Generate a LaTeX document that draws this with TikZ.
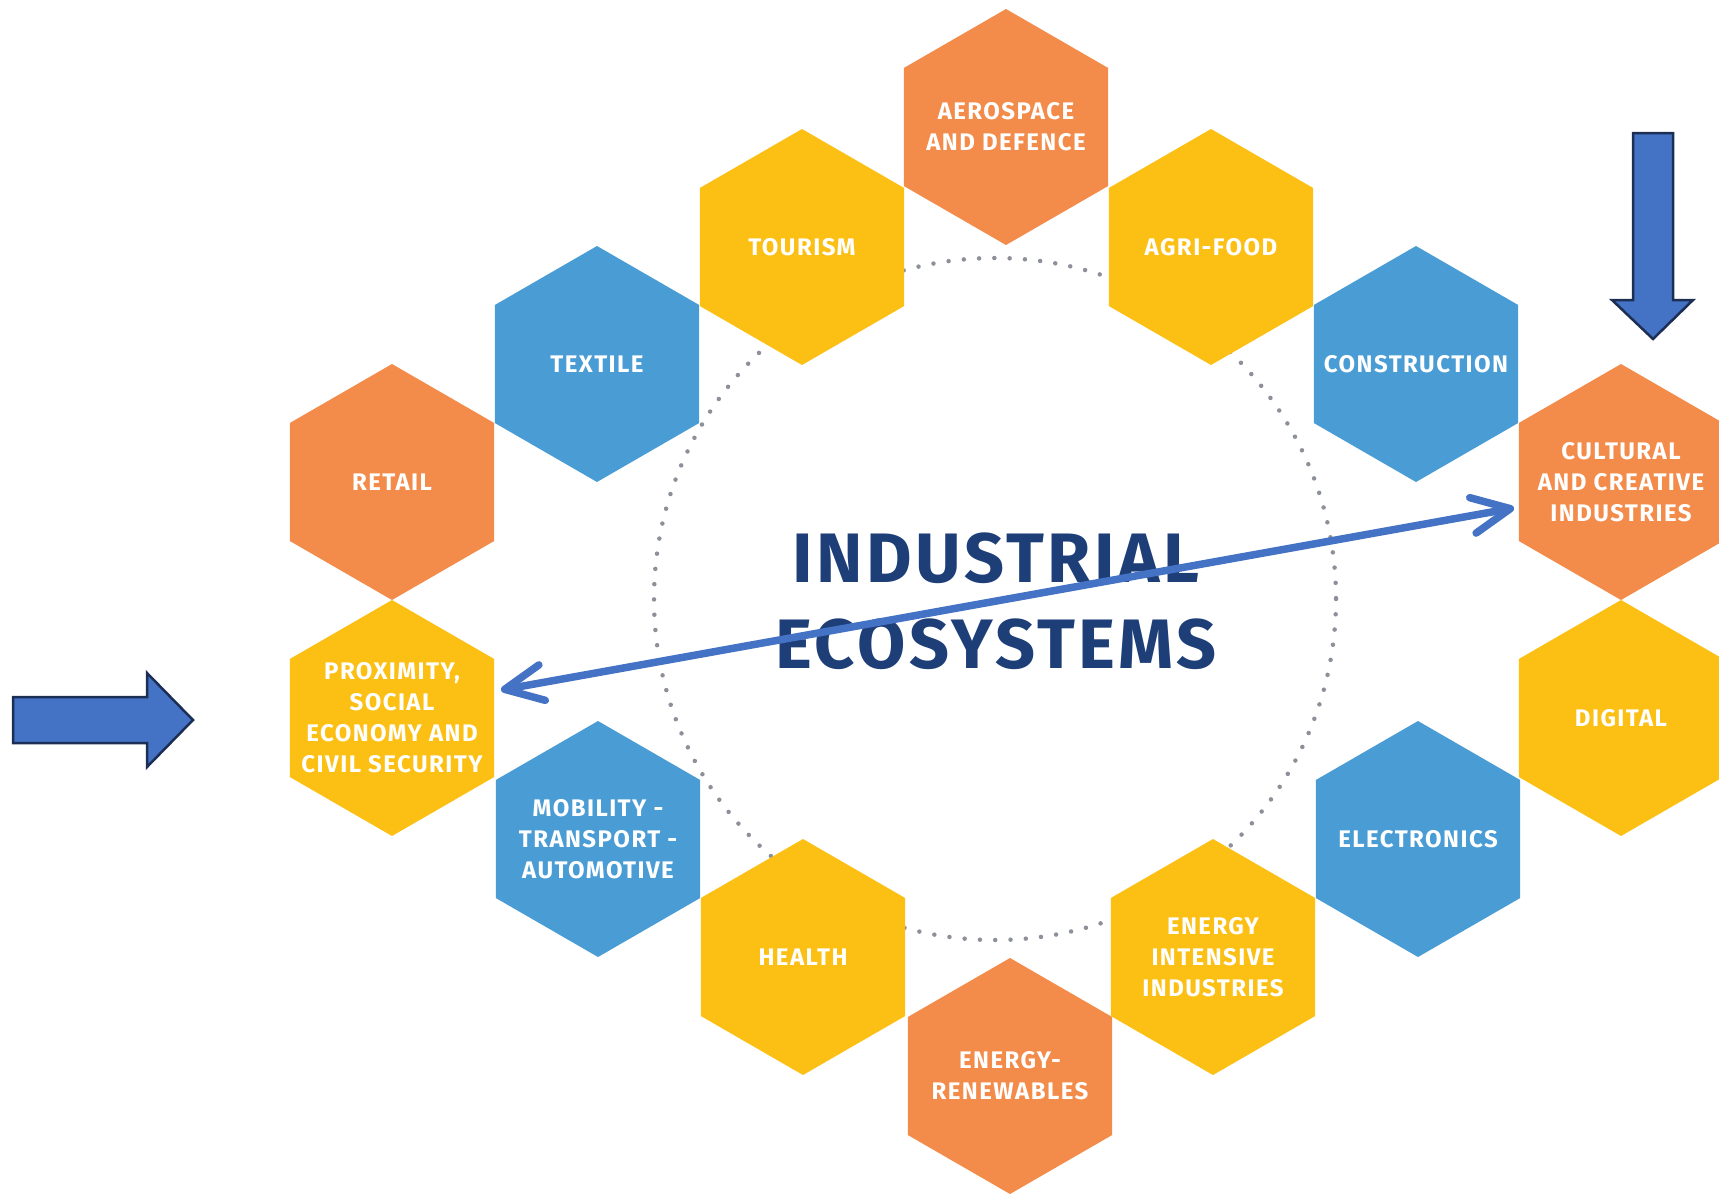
\documentclass[tikz,border=0pt]{standalone}
\usepackage{fontspec}
\setmainfont{Fira Sans}
\newfontfamily\lblfont[LetterSpace=6]{Fira Sans}
\newfontfamily\ttlfont[LetterSpace=5]{Fira Sans}
\usetikzlibrary{shapes.geometric,arrows.meta}
\definecolor{hexor}{RGB}{243,139,74}
\definecolor{hexye}{RGB}{252,191,20}
\definecolor{hexbl}{RGB}{74,156,212}
\definecolor{titleblue}{RGB}{30,62,120}
\definecolor{arrblue}{RGB}{68,114,196}
\definecolor{arrnavy}{RGB}{28,46,84}
\definecolor{dotgray}{RGB}{140,144,152}
\begin{document}
\begin{tikzpicture}[x=1pt,y=-1pt,
  hexa/.style={regular polygon, regular polygon sides=6, shape border rotate=30,
    minimum size=236pt, inner sep=0pt, draw=none},
  lbl/.style={text=white, font=\lblfont\bfseries\fontsize{24}{31}\selectfont, align=center, inner sep=0pt},
  titletext/.style={text=titleblue, font=\ttlfont\bfseries\fontsize{70}{86}\selectfont, align=center, inner sep=0pt},
  blockarrow/.style={fill=arrblue, draw=arrnavy, line width=2.5pt, line join=miter},
  dblarrow/.style={draw=arrblue, line width=7.5pt,
    {Straight Barb[length=38pt,width=36pt,round]}-{Straight Barb[length=38pt,width=36pt,round]}},
  ring/.style={draw=dotgray, line width=4.5pt, line cap=round, dash pattern=on 0pt off 15.3pt}
]
\useasboundingbox (0,0) rectangle (1719,1194);
\clip (0,0) rectangle (1719,1194);

% dotted ring
\coordinate (ctr) at (995,599);
\draw[ring] (ctr) circle[radius=341];

% hexagons
\node[hexa, fill=hexor] (aero) at (1006,127) {};
\node[hexa, fill=hexye] (tour) at (802,247) {};
\node[hexa, fill=hexye] (agri) at (1211,247) {};
\node[hexa, fill=hexbl] (text) at (597,364) {};
\node[hexa, fill=hexbl] (cons) at (1416,364) {};
\node[hexa, fill=hexor] (reta) at (392,482) {};
\node[hexa, fill=hexor] (cult) at (1621,482) {};
\node[hexa, fill=hexye] (prox) at (392,718) {};
\node[hexa, fill=hexye] (digi) at (1621,718) {};
\node[hexa, fill=hexbl] (mobi) at (598,839) {};
\node[hexa, fill=hexbl] (elec) at (1418,839) {};
\node[hexa, fill=hexye] (heal) at (803,957) {};
\node[hexa, fill=hexye] (enin) at (1213,957) {};
\node[hexa, fill=hexor] (enre) at (1010,1076) {};

% labels
\node[lbl] (aeroT) at (aero) {AEROSPACE\\AND DEFENCE};
\node[lbl] (tourT) at (tour) {TOURISM};
\node[lbl] (agriT) at (agri) {AGRI-FOOD};
\node[lbl] (textT) at (text) {TEXTILE};
\node[lbl] (consT) at (cons) {CONSTRUCTION};
\node[lbl] (retaT) at (reta) {RETAIL};
\node[lbl] (cultT) at (cult) {CULTURAL\\AND CREATIVE\\INDUSTRIES};
\node[lbl] (proxT) at (prox) {PROXIMITY,\\SOCIAL\\ECONOMY AND\\CIVIL SECURITY};
\node[lbl] (digiT) at (digi) {DIGITAL};
\node[lbl] (mobiT) at (mobi) {MOBILITY -\\TRANSPORT -\\AUTOMOTIVE};
\node[lbl] (elecT) at (elec) {ELECTRONICS};
\node[lbl] (healT) at (heal) {HEALTH};
\node[lbl] (eninT) at (enin) {ENERGY\\INTENSIVE\\INDUSTRIES};
\node[lbl] (enreT) at (enre) {ENERGY-\\RENEWABLES};

% title
\node[titletext] (title) at (996,601) {INDUSTRIAL\\ECOSYSTEMS};

% double-headed arrow
\coordinate (aL) at (501,690);
\coordinate (aR) at (1514,508);
\draw[dblarrow] (aL) -- (aR);

% block arrow pointing down
\draw[blockarrow] (1633,133) -- (1673,133) -- (1673,300) -- (1693,300)
  -- (1653,339) -- (1612,300) -- (1633,300) -- cycle;

% block arrow pointing right
\draw[blockarrow] (13,697) -- (147,697) -- (147,673) -- (193,720)
  -- (147,767) -- (147,743) -- (13,743) -- cycle;
\end{tikzpicture}
\end{document}
